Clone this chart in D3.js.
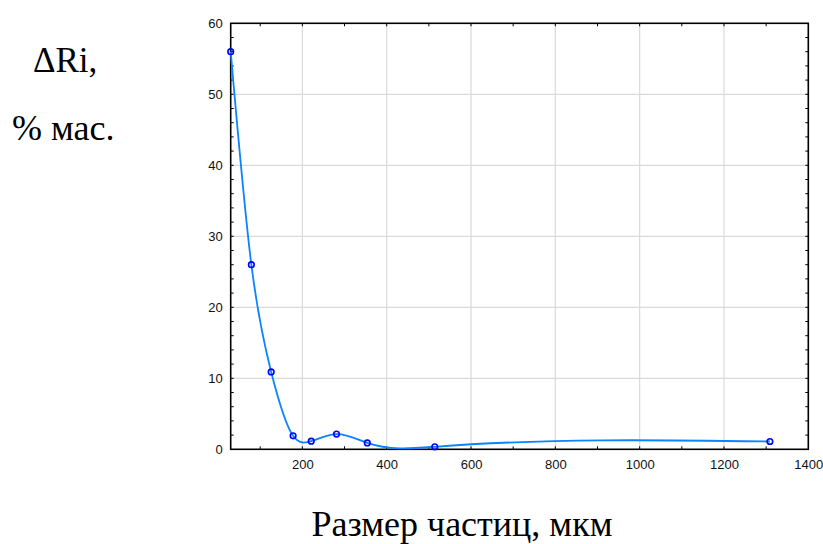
<!DOCTYPE html>
<html>
<head>
<meta charset="utf-8">
<script src="https://cdn.jsdelivr.net/npm/d3@7"></script>
<style>
  html, body { margin: 0; padding: 0; background: #fff; }
  svg { display: block; }
</style>
</head>
<body>
<svg id="chart" width="823" height="544"></svg>
<script>
// Particle size fractions, µm, and their mass share ΔRi, %
const sizes = [30, 79, 126, 178, 221, 281, 354, 514, 1309];
const shares = [56, 26, 10.9, 1.9, 1.15, 2.15, 0.9, 0.35, 1.1];

const xTicks = [200, 400, 600, 800, 1000, 1200, 1400];
const yTicks = [0, 10, 20, 30, 40, 50, 60];
const xMinorTicks = d3.range(100, 1400, 100);
const yMinorTicks = d3.range(2, 60, 2);

const svg = d3.select("#chart");
const plot = { left: 230.7, right: 808.3, top: 23.3, bottom: 449.3 };

const x = d3.scaleLinear().domain([30, 1400]).range([plot.left, plot.right]);
const y = d3.scaleLinear().domain([0, 60]).range([plot.bottom, plot.top]);

// Natural cubic spline y(x): second derivatives vanish at both ends.
// Each span is emitted as an exact cubic Bézier segment.
function curveNaturalX(context) {
  return {
    areaStart() {}, areaEnd() {},
    lineStart() { this._xs = []; this._ys = []; },
    point(px, py) { this._xs.push(+px); this._ys.push(+py); },
    lineEnd() {
      const X = this._xs, Y = this._ys, n = X.length;
      if (!n) return;
      context.moveTo(X[0], Y[0]);
      if (n < 3) { for (let i = 1; i < n; i++) context.lineTo(X[i], Y[i]); return; }
      const h = d3.range(n - 1).map(i => X[i + 1] - X[i]);
      const M = new Array(n).fill(0);
      // tridiagonal system for interior second derivatives
      const m = n - 2, a = [], b = [], c = [], r = [];
      for (let k = 0; k < m; k++) {
        const i = k + 1;
        a[k] = h[i - 1]; b[k] = 2 * (h[i - 1] + h[i]); c[k] = h[i];
        r[k] = 6 * ((Y[i + 1] - Y[i]) / h[i] - (Y[i] - Y[i - 1]) / h[i - 1]);
      }
      for (let k = 1; k < m; k++) {
        const w = a[k] / b[k - 1];
        b[k] -= w * c[k - 1]; r[k] -= w * r[k - 1];
      }
      const sol = new Array(m);
      sol[m - 1] = r[m - 1] / b[m - 1];
      for (let k = m - 2; k >= 0; k--) sol[k] = (r[k] - c[k] * sol[k + 1]) / b[k];
      for (let k = 0; k < m; k++) M[k + 1] = sol[k];
      for (let i = 0; i < n - 1; i++) {
        const hi = h[i], s = (Y[i + 1] - Y[i]) / hi;
        const d0 = s - hi * (2 * M[i] + M[i + 1]) / 6;
        const d1 = s + hi * (M[i] + 2 * M[i + 1]) / 6;
        context.bezierCurveTo(
          X[i] + hi / 3, Y[i] + d0 * hi / 3,
          X[i + 1] - hi / 3, Y[i + 1] - d1 * hi / 3,
          X[i + 1], Y[i + 1]);
      }
    }
  };
}

// grid
const grid = svg.append("g").attr("stroke", "#dadada").attr("stroke-width", 1.2);
grid.selectAll("line.gx").data(xTicks.filter(d => d < 1400)).join("line")
  .attr("x1", d => x(d)).attr("x2", d => x(d))
  .attr("y1", plot.top).attr("y2", plot.bottom);
grid.selectAll("line.gy").data(yTicks.filter(d => d > 0 && d < 60)).join("line")
  .attr("x1", plot.left).attr("x2", plot.right)
  .attr("y1", d => y(d)).attr("y2", d => y(d));

// inward minor ticks on all four sides
const tickLen = 3;
const ticks = svg.append("g").attr("stroke", "#000").attr("stroke-width", 1);
ticks.selectAll("line.bt").data(xMinorTicks).join("line")
  .attr("x1", d => x(d)).attr("x2", d => x(d))
  .attr("y1", plot.bottom).attr("y2", plot.bottom - tickLen);
ticks.selectAll("line.tt").data(xMinorTicks).join("line")
  .attr("x1", d => x(d)).attr("x2", d => x(d))
  .attr("y1", plot.top).attr("y2", plot.top + tickLen);
ticks.selectAll("line.lt").data(yMinorTicks).join("line")
  .attr("x1", plot.left).attr("x2", plot.left + tickLen)
  .attr("y1", d => y(d)).attr("y2", d => y(d));
ticks.selectAll("line.rt").data(yMinorTicks).join("line")
  .attr("x1", plot.right).attr("x2", plot.right - tickLen)
  .attr("y1", d => y(d)).attr("y2", d => y(d));

// frame
svg.append("rect")
  .attr("x", plot.left).attr("y", plot.top)
  .attr("width", plot.right - plot.left).attr("height", plot.bottom - plot.top)
  .attr("fill", "none").attr("stroke", "#000").attr("stroke-width", 1.6);

// tick labels via d3 axes (tick marks drawn above, inward)
const xAxis = svg.append("g")
  .attr("transform", `translate(0,${plot.bottom})`)
  .call(d3.axisBottom(x).tickValues(xTicks).tickSize(0).tickPadding(10).tickFormat(d3.format("d")));
const yAxis = svg.append("g")
  .attr("transform", `translate(${plot.left},0)`)
  .call(d3.axisLeft(y).tickValues(yTicks).tickSize(0).tickPadding(8).tickFormat(d3.format("d")));
[xAxis, yAxis].forEach(a => {
  a.select(".domain").remove();
  a.selectAll("text").attr("font-family", "Arial, 'Liberation Sans', sans-serif")
    .attr("font-size", 13).attr("fill", "#111");
});

// spline curve through the measured points
const pts = sizes.map((s, i) => [s, shares[i]]);
svg.append("path")
  .datum(pts)
  .attr("fill", "none")
  .attr("stroke", "#0a84ff")
  .attr("stroke-width", 1.8)
  .attr("d", d3.line().x(d => x(d[0])).y(d => y(d[1])).curve(curveNaturalX));

// markers
svg.append("g").selectAll("circle").data(pts).join("circle")
  .attr("cx", d => x(d[0])).attr("cy", d => y(d[1]))
  .attr("r", 2.8)
  .attr("fill", "none")
  .attr("stroke", "#0000ff")
  .attr("stroke-width", 1.6);

// titles
const serif = "'Times New Roman', 'Liberation Serif', serif";
svg.append("text").attr("x", 33).attr("y", 72)
  .attr("font-family", serif).attr("font-size", 35).attr("fill", "#000")
  .text("ΔRi,");
svg.append("text").attr("x", 12).attr("y", 140)
  .attr("font-family", serif).attr("font-size", 36).attr("fill", "#000")
  .text("% мас.");
svg.append("text").attr("x", 462).attr("y", 536)
  .attr("text-anchor", "middle")
  .attr("font-family", serif).attr("font-size", 36).attr("fill", "#000")
  .text("Размер частиц, мкм");
</script>
</body>
</html>
